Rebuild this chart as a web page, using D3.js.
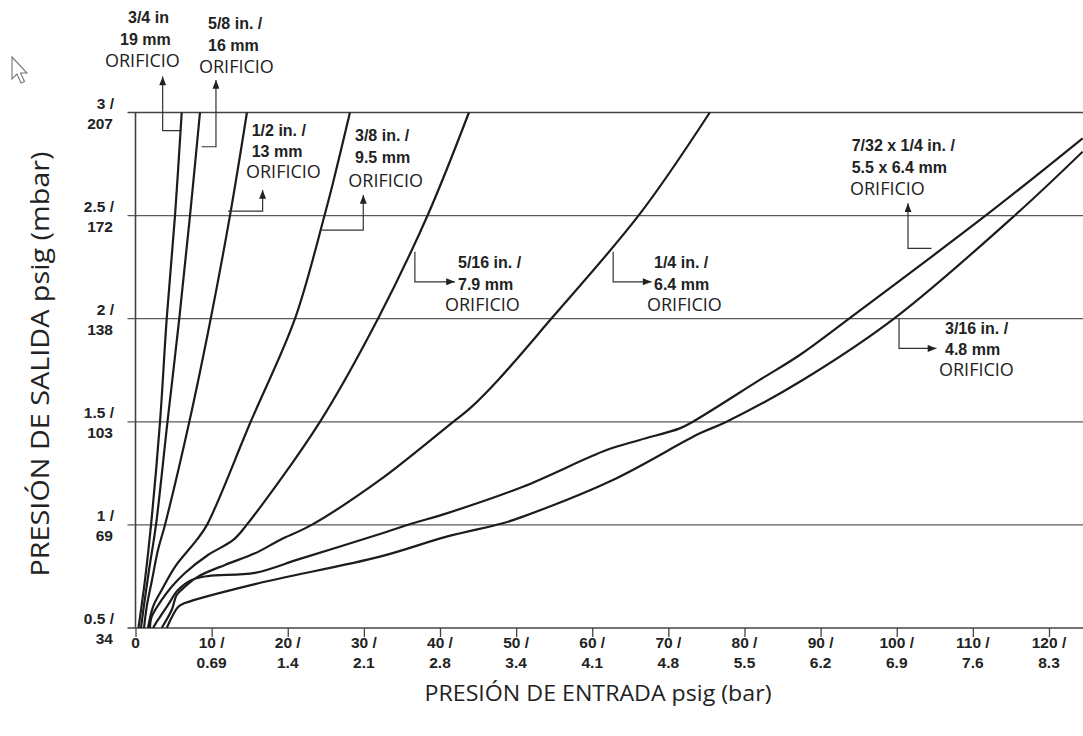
<!DOCTYPE html>
<html>
<head>
<meta charset="utf-8">
<script src="https://cdn.jsdelivr.net/npm/d3@7"></script>
<style>
  body { margin: 0; background: #fff; }
  svg { display: block; }
</style>
</head>
<body>
<div id="chart"></div>
<script>
// ---------------------------//
//       DATA                 //
// ---------------------------//
// each curve: [inlet psig, outlet psig]
var orifice_3_4   = [[0.39,0.5],[0.72,0.587],[1.25,0.733],[2.04,1.0],[3.22,1.5],[4.10,2.0],[5.19,2.5],[6.07,3.0]];
var orifice_5_8   = [[0.72,0.5],[1.12,0.612],[1.77,0.78],[2.69,1.0],[4.20,1.5],[5.75,2.0],[7.16,2.5],[8.47,3.0]];
var orifice_1_2   = [[1.12,0.5],[1.51,0.612],[2.17,0.733],[2.95,0.878],[3.87,1.0],[7.07,1.5],[9.88,2.0],[12.41,2.5],[14.64,3.0]];
var orifice_3_8   = [[1.64,0.5],[2.30,0.603],[3.44,0.684],[5.19,0.797],[8.04,0.927],[9.39,1.0],[15.13,1.5],[20.95,2.0],[24.88,2.508],[25.94,2.658],[28.17,3.0]];
var orifice_5_16  = [[1.90,0.5],[2.13,0.555],[3.44,0.636],[4.75,0.70],[6.50,0.767],[9.52,0.854],[12.84,0.927],[14.60,1.0],[24.23,1.5],[31.85,2.0],[38.45,2.508],[43.80,3.0]];
var orifice_1_4   = [[3.44,0.5],[4.75,0.587],[5.41,0.66],[6.50,0.70],[8.21,0.749],[11.75,0.806],[15.69,0.862],[18.98,0.927],[23.14,1.0],[32.11,1.218],[41.73,1.5],[43.93,1.565],[47.64,1.703],[54.69,2.003],[66.25,2.508],[75.44,3.0]];
var orifice_7_32  = [[2.30,0.5],[2.95,0.539],[4.27,0.612],[5.58,0.684],[7.38,0.733],[9.52,0.752],[15.69,0.767],[21.60,0.835],[32.11,0.956],[36.44,1.008],[40.87,1.056],[50.89,1.185],[61.88,1.363],[66.25,1.412],[71.5,1.468],[73.21,1.5],[82.0,1.703],[87.26,1.824],[93.83,2.003],[111.95,2.508],[124.42,2.875]];
var orifice_3_16  = [[4.10,0.5],[5.62,0.603],[6.50,0.621],[15.69,0.713],[32.11,0.846],[40.87,0.943],[48.26,1.008],[50.89,1.040],[62.71,1.218],[74.14,1.444],[77.64,1.5],[87.65,1.703],[99.73,2.003],[115.72,2.508],[124.42,2.81]];

var curves = [orifice_3_4, orifice_5_8, orifice_1_2, orifice_3_8, orifice_5_16, orifice_1_4, orifice_7_32, orifice_3_16];

// axis ticks
var xTicks  = [0, 10, 20, 30, 40, 50, 60, 70, 80, 90, 100, 110, 120];
var xBar    = ["", "0.69", "1.4", "2.1", "2.8", "3.4", "4.1", "4.8", "5.5", "6.2", "6.9", "7.6", "8.3"];
var yTicks  = [0.5, 1, 1.5, 2, 2.5, 3];
var yMbar   = ["34", "69", "103", "138", "172", "207"];

// callout labels
var labelLines = [
  ["3/4 in", "19 mm", "ORIFICIO"],
  ["5/8 in. /", "16 mm", "ORIFICIO"],
  ["1/2 in. /", "13 mm", "ORIFICIO"],
  ["3/8 in. /", "9.5 mm", "ORIFICIO"],
  ["5/16 in. /", "7.9 mm", "ORIFICIO"],
  ["1/4 in. /", "6.4 mm", "ORIFICIO"],
  ["7/32 x 1/4 in. /", "5.5 x 6.4 mm", "ORIFICIO"],
  ["3/16 in. /", "4.8 mm", "ORIFICIO"]
];

// ---------------------------//
//       LAYOUT               //
// ---------------------------//
var W = 1083, H = 736;
var plotL = 135.5, plotT = 112.5, plotB = 628, plotR = 1083;

var svg = d3.select("#chart").append("svg")
  .attr("width", W).attr("height", H);

var x = d3.scaleLinear().domain([0, 120]).range([plotL, 1049]);
var y = d3.scaleLinear().domain([0.5, 3]).range([plotB, plotT]);

// gridlines (extend a little left of the axis)
svg.append("g").selectAll("line")
  .data(yTicks.slice(1, 5))
  .enter().append("line")
    .attr("x1", plotL - 8).attr("x2", plotR)
    .attr("y1", function(d){ return y(d); })
    .attr("y2", function(d){ return y(d); })
    .attr("stroke", "#5a5a5a").attr("stroke-width", 1.3);

// top frame line
svg.append("line")
  .attr("x1", plotL - 8).attr("x2", plotR)
  .attr("y1", y(3)).attr("y2", y(3))
  .attr("stroke", "#444").attr("stroke-width", 1.6);

// left axis line
svg.append("line")
  .attr("x1", plotL).attr("x2", plotL)
  .attr("y1", y(3)).attr("y2", plotB)
  .attr("stroke", "#444").attr("stroke-width", 1.6);

// bottom axis
var xAxis = svg.append("g")
  .attr("transform", "translate(0," + plotB + ")")
  .call(d3.axisBottom(x).tickValues(xTicks).tickSize(9).tickFormat(""));
xAxis.select(".domain").attr("d", "M" + (plotL - 8) + ",0H" + plotR).attr("stroke", "#444").attr("stroke-width", 1.6);
xAxis.selectAll(".tick line").attr("stroke", "#444").attr("stroke-width", 1.3);

var tickFont = "'Liberation Sans', Arial, sans-serif";
svg.append("g").selectAll("text")
  .data(xTicks)
  .enter().append("text")
    .attr("x", function(d){ return x(d); })
    .attr("y", plotB + 20)
    .attr("text-anchor", "middle")
    .style("font-family", tickFont).style("font-weight", "bold").style("font-size", "15.5px")
    .attr("fill", "#222")
    .text(function(d){ return d === 0 ? "0" : d + " /"; });
svg.append("g").selectAll("text")
  .data(xTicks)
  .enter().append("text")
    .attr("x", function(d){ return x(d); })
    .attr("y", plotB + 40)
    .attr("text-anchor", "middle")
    .style("font-family", tickFont).style("font-weight", "bold").style("font-size", "15.5px")
    .attr("fill", "#222")
    .text(function(d, i){ return xBar[i]; });

// y tick labels (two lines each)
svg.append("g").selectAll("text")
  .data(yTicks)
  .enter().append("text")
    .attr("x", 114)
    .attr("y", function(d){ return y(d) - 4; })
    .attr("text-anchor", "end")
    .style("font-family", tickFont).style("font-weight", "bold").style("font-size", "15.5px")
    .attr("fill", "#222")
    .text(function(d){ return d + " /"; });
svg.append("g").selectAll("text")
  .data(yTicks)
  .enter().append("text")
    .attr("x", 113)
    .attr("y", function(d){ return y(d) + 16; })
    .attr("text-anchor", "end")
    .style("font-family", tickFont).style("font-weight", "bold").style("font-size", "15.5px")
    .attr("fill", "#222")
    .text(function(d, i){ return yMbar[i]; });

// axis titles
svg.append("text")
  .attr("x", 598).attr("y", 701)
  .attr("text-anchor", "middle")
  .attr("textLength", 347).attr("lengthAdjust", "spacingAndGlyphs")
  .style("font-family", "'Open Sans', sans-serif").style("font-size", "22px")
  .attr("fill", "#222")
  .text("PRESIÓN DE ENTRADA psig (bar)");

svg.append("text")
  .attr("transform", "translate(49,364) rotate(-90)")
  .attr("text-anchor", "middle")
  .attr("textLength", 425).attr("lengthAdjust", "spacingAndGlyphs")
  .style("font-family", "'Open Sans', sans-serif").style("font-size", "26px")
  .attr("fill", "#222")
  .text("PRESIÓN DE SALIDA psig (mbar)");

// ---------------------------//
//       CURVES               //
// ---------------------------//
svg.append("clipPath").attr("id", "plotclip")
  .append("rect").attr("x", plotL).attr("y", plotT - 2).attr("width", plotR - plotL).attr("height", plotB - plotT + 2);

var line = d3.line()
  .x(function(d){ return x(d[0]); })
  .y(function(d){ return y(d[1]); })
  .curve(d3.curveCatmullRom.alpha(0.5));

svg.append("g").attr("clip-path", "url(#plotclip)")
  .selectAll("path")
  .data(curves)
  .enter().append("path")
    .attr("d", line)
    .attr("fill", "none")
    .attr("stroke", "#1c1c1c")
    .attr("stroke-width", 2.2)
    .attr("stroke-linejoin", "round");

// ---------------------------//
//       CALLOUTS             //
// ---------------------------//
svg.append("defs").append("marker")
  .attr("id", "arrow")
  .attr("viewBox", "0 0 10 8")
  .attr("refX", 10).attr("refY", 4)
  .attr("markerWidth", 10).attr("markerHeight", 7)
  .attr("markerUnits", "userSpaceOnUse")
  .attr("orient", "auto")
  .append("path").attr("d", "M0,0L10,4L0,8z").attr("fill", "#222");

// leader paths in data units (from curve to arrow tip)
var leaders = [
  [[5.84,2.912],[3.57,2.912],[3.57,3.174]],
  [[8.69,2.834],[10.57,2.834],[10.57,3.158]],
  [[12.15,2.522],[16.70,2.522],[16.70,2.624]],
  [[24.45,2.430],[29.92,2.430],[29.92,2.600]],
  [[36.70,2.325],[36.70,2.179],[41.96,2.179]],
  [[62.75,2.325],[62.75,2.179],[67.79,2.179]],
  [[104.56,2.341],[101.48,2.341],[101.48,2.560]],
  [[100.3,2.002],[100.3,1.856],[105.21,1.856]]
];

var straight = d3.line()
  .x(function(d){ return x(d[0]); })
  .y(function(d){ return y(d[1]); });

svg.append("g").selectAll("path")
  .data(leaders)
  .enter().append("path")
    .attr("d", straight)
    .attr("fill", "none")
    .attr("stroke", "#333")
    .attr("stroke-width", 1.2)
    .attr("marker-end", "url(#arrow)");

// label placement: left x of each line and line centre y (pixels)
var labelPos = [
  { xs: [128, 120, 105],       ys: [16.7, 39.3, 60] },
  { xs: [208, 208, 199],       ys: [23.3, 45, 66.7] },
  { xs: [251.7, 251.7, 246],   ys: [130, 150.7, 171.5] },
  { xs: [355, 355, 348.3],     ys: [135, 157.3, 180.5] },
  { xs: [458, 458, 445],       ys: [261.7, 284, 304] },
  { xs: [654, 654, 647],       ys: [261.7, 284, 304] },
  { xs: [851.7, 851.7, 850],   ys: [145, 166.7, 188.5] },
  { xs: [945, 945, 939],       ys: [328.3, 349, 369.3] }
];

labelLines.forEach(function(lines, i){
  var g = svg.append("g");
  lines.forEach(function(t, j){
    var isOrif = (j === 2);
    g.append("text")
      .attr("x", labelPos[i].xs[j])
      .attr("y", labelPos[i].ys[j] + (isOrif ? 6.5 : 6))
      .style("font-family", isOrif ? "'Open Sans', sans-serif" : tickFont)
      .style("font-weight", isOrif ? "normal" : "bold")
      .style("font-size", isOrif ? "18px" : "16px")
      .attr("fill", "#222")
      .text(t);
  });
});

// mouse pointer left in the screenshot
svg.append("path")
  .attr("d", "M12,57L12,79L17,74L21,83L24.5,81.5L20.5,73L27,73Z")
  .attr("fill", "#fff").attr("stroke", "#777").attr("stroke-width", 1.1);
</script>
</body>
</html>
